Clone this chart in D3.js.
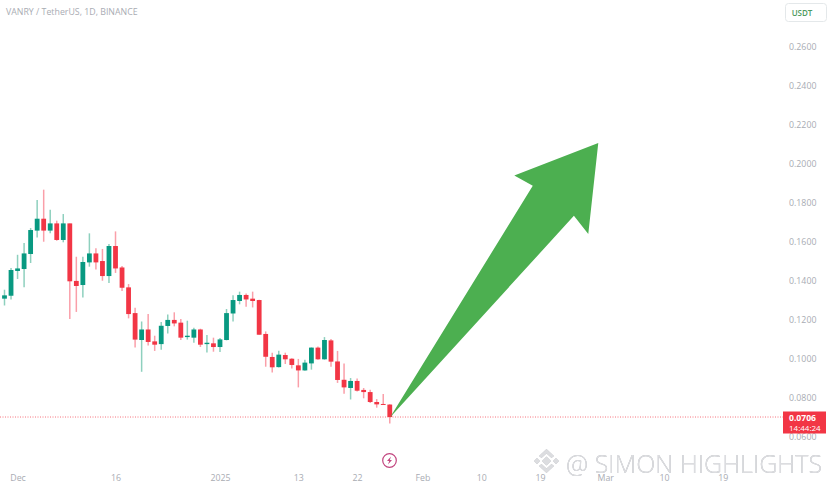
<!DOCTYPE html>
<html>
<head>
<meta charset="utf-8">
<script src="https://cdn.jsdelivr.net/npm/d3@7"></script>
<style>
  html, body { margin: 0; padding: 0; background: #fff; overflow: hidden; }
  text { font-family: "Open Sans", sans-serif; }
</style>
</head>
<body>
<script>
// candles, one per day from 29 Nov 2024
const firstDay = "2024-11-29";
const opens = [.1313,.1328,.1455,.1465,.1542,.1662,.1723,.1662,.1699,.1614,.1699,.1404,.1383,.1499,.1545,.1506,.1429,.1583,.1473,.1371,.1239,.1101,.1155,.1094,.1080,.1173,.1204,.1190,.1116,.1113,.1155,.1080,.1084,.1065,.1101,.1237,.1301,.1332,.1313,.1306,.1132,.1014,.0962,.1024,.1005,.0971,.0945,.0981,.1062,.1002,.1099,.0991,.0897,.0855,.0891,.0845,.0834,.0783,.0773,.0770];
const highs = [.1359,.1470,.1538,.1598,.1675,.1819,.1872,.1769,.1713,.1747,.1699,.1528,.1528,.1648,.1571,.1568,.1593,.1658,.1480,.1388,.1267,.1196,.1234,.1123,.1193,.1232,.1243,.1209,.1200,.1164,.1159,.1127,.1113,.1111,.1260,.1330,.1349,.1340,.1349,.1308,.1145,.1036,.1046,.1036,.1007,.1004,.1000,.1063,.1068,.1116,.1106,.1045,.0981,.0906,.0904,.0855,.0846,.0798,.0824,.0772];
const lows = [.1278,.1309,.1414,.1371,.1496,.1627,.1605,.1648,.1610,.1602,.1209,.1245,.1319,.1477,.1462,.1405,.1393,.1445,.1352,.1212,.1063,.0938,.1073,.1045,.1051,.1135,.1171,.1101,.1103,.1087,.1065,.1037,.1041,.1039,.1099,.1196,.1284,.1272,.1268,.1128,.0964,.0935,.0960,.0978,.0955,.0858,.0943,.0949,.1000,.1000,.0964,.0881,.0826,.0796,.0837,.0802,.0778,.0754,.0769,.0673];
const closes = [.1330,.1460,.1468,.1545,.1665,.1723,.1662,.1699,.1614,.1699,.1402,.1378,.1501,.1545,.1499,.1429,.1583,.1468,.1369,.1234,.1103,.1155,.1091,.1077,.1174,.1204,.1186,.1113,.1123,.1155,.1077,.1087,.1065,.1104,.1239,.1306,.1332,.1309,.1301,.1128,.1015,.0961,.1026,.1002,.0973,.0945,.0985,.1062,.1002,.1101,.0990,.0896,.0858,.0891,.0841,.0834,.0783,.0771,.0770,.0706];

const priceTicks = [.26,.24,.22,.20,.18,.16,.14,.12,.10,.08,.06];
const dateTicks = ["2024-12-01","2024-12-16","2025-01-01","2025-01-13","2025-01-22","2025-02-01","2025-02-10","2025-02-19","2025-03-01","2025-03-10","2025-03-19"];
const dateLabels = ["Dec","16","2025","13","22","Feb","10","19","Mar","10","19"];
const lastPrice = 0.0706;
const countdown = "14:44:24";

// big arrow outline: days after the first candle, price
const arrowDays = [59.03,80.9,78.07,90.93,89.4,87.2];
const arrowPrices = [.0703,.1892,.1944,.2111,.1645,.1738];

const width = 829, height = 489;
const green = "#089981", red = "#f23645";

const day0 = new Date(firstDay);
const addDays = n => new Date(+day0 + n * 864e5);

const x = d3.scaleUtc().domain([day0, addDays(110)]).range([4.5, 722.8]);
const y = d3.scaleLinear().domain([.06, .26]).range([437.7, 47.7]);

const svg = d3.select("body").append("svg")
  .attr("width", width)
  .attr("height", height)
  .style("display", "block");

// watermark sits under everything else
const wm = svg.append("g")
  .attr("fill", "#dcdde0")
  .style("filter", "drop-shadow(.6px .6px 0 #b4b6bb)");
wm.append("path")
  .attr("transform", "translate(546.5,461)")
  .attr("d", "M0-4.5L4.5 0 0 4.5-4.5 0zM-9.5-3L-6.5 0-9.5 3-12.5 0zM9.5-3L12.5 0 9.5 3 6.5 0zM-7.5-5L0-12 7.5-5 5-3 0-7.5-5-3zM-7.5 5L0 12 7.5 5 5 3 0 7.5-5 3z");
wm.append("text")
  .attr("x", 566)
  .attr("y", 473)
  .attr("font-size", 25)
  .attr("font-weight", 300)
  .text("@ SIMON HIGHLIGHTS");

// last price line
svg.append("line")
  .attr("x1", 0)
  .attr("x2", 783)
  .attr("y1", y(lastPrice))
  .attr("y2", y(lastPrice))
  .attr("stroke", red)
  .attr("stroke-opacity", .7)
  .attr("stroke-dasharray", "1 1.5");

// wicks
svg.append("g").selectAll("line")
  .data(opens.map((o, i) => i))
  .join("line")
  .attr("x1", i => x(addDays(i)))
  .attr("x2", i => x(addDays(i)))
  .attr("y1", i => y(highs[i]))
  .attr("y2", i => y(lows[i]))
  .attr("stroke", i => closes[i] >= opens[i] ? "#8ed0be" : "#fa9fa9")
  .attr("stroke-width", 1.5);

// bodies
svg.append("g").selectAll("rect")
  .data(opens.map((o, i) => i))
  .join("rect")
  .attr("x", i => x(addDays(i)) - 2.4)
  .attr("width", 4.8)
  .attr("y", i => y(Math.max(opens[i], closes[i])))
  .attr("height", i => Math.max(1, Math.abs(y(opens[i]) - y(closes[i]))))
  .attr("fill", i => closes[i] >= opens[i] ? green : red);

// arrow
svg.append("polygon")
  .attr("points", arrowDays.map((d, i) => [x(addDays(d)), y(arrowPrices[i])].join(",")).join(" "))
  .attr("fill", "#4caf50");

// price axis
const yAxis = d3.axisRight(y)
  .tickValues(priceTicks)
  .tickFormat(d3.format(".4f"))
  .tickSize(0)
  .tickPadding(0);
svg.append("g")
  .attr("transform", "translate(789,-.7)")
  .call(yAxis)
  .call(g => g.select(".domain").remove())
  .call(g => g.selectAll("text").attr("fill", "#a9acb3").attr("font-size", 8.8));

// time axis
const xAxis = d3.axisBottom(x)
  .tickValues(dateTicks.map(d => new Date(d)))
  .tickFormat((d, i) => dateLabels[i])
  .tickSize(0)
  .tickPadding(0);
svg.append("g")
  .attr("transform", "translate(0,474.5)")
  .call(xAxis)
  .call(g => g.select(".domain").remove())
  .call(g => g.selectAll("text").attr("fill", "#a9acb3").attr("font-size", 8.8));

// title
svg.append("text")
  .attr("x", 6)
  .attr("y", 15)
  .attr("font-size", 8.8)
  .attr("fill", "#a9acb3")
  .text("VANRY / TetherUS, 1D, BINANCE");

// currency button
svg.append("rect")
  .attr("x", 785.5)
  .attr("y", 3.5)
  .attr("width", 41)
  .attr("height", 18)
  .attr("rx", 3)
  .attr("fill", "#fff")
  .attr("stroke", "#e4e8ea");
svg.append("text")
  .attr("x", 802)
  .attr("y", 16)
  .attr("text-anchor", "middle")
  .attr("font-size", 8)
  .attr("font-weight", 600)
  .attr("fill", "#4f9a5e")
  .text("USDT");

// last price tag
svg.append("rect")
  .attr("x", 783)
  .attr("y", 411.5)
  .attr("width", 43)
  .attr("height", 22)
  .attr("fill", red);
svg.append("text")
  .attr("x", 789)
  .attr("y", 421)
  .attr("font-size", 8.6)
  .attr("font-weight", 700)
  .attr("fill", "#fff")
  .text(d3.format(".4f")(lastPrice));
svg.append("text")
  .attr("x", 789)
  .attr("y", 431)
  .attr("font-size", 8)
  .attr("fill", "#fff")
  .text(countdown);

// lightning badge
const badge = svg.append("g").attr("transform", "translate(389.5,460.5)");
badge.append("circle")
  .attr("r", 6.8)
  .attr("fill", "#fff")
  .attr("stroke", "#c2457f")
  .attr("stroke-width", 1.2);
badge.append("path")
  .attr("d", "M1.5-4L-2.5 .6H-.3L-1.5 4L2.5-.6H.3z")
  .attr("fill", "#c2457f");
</script>
</body>
</html>
